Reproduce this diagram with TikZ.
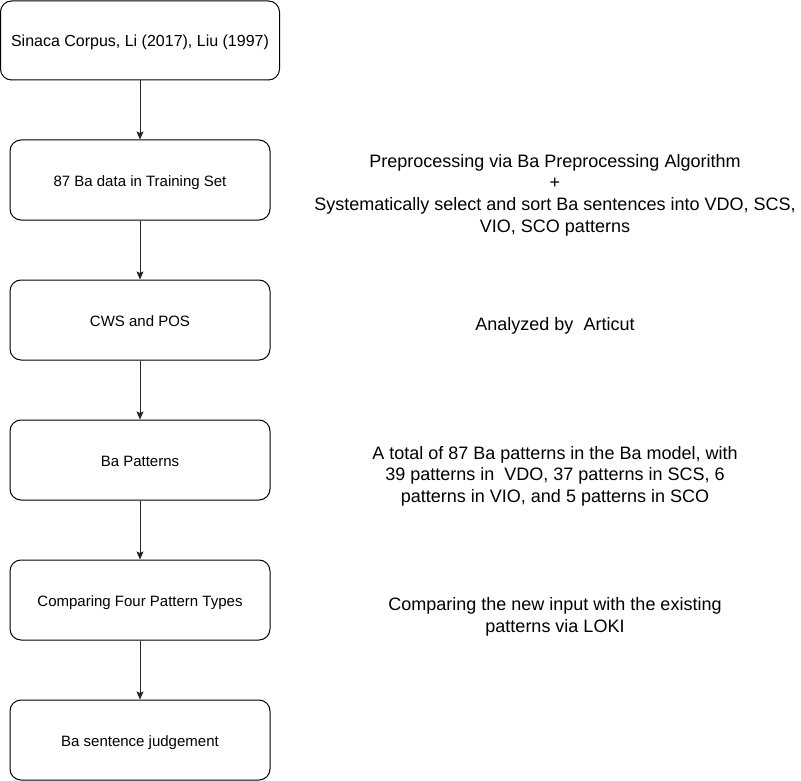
\documentclass[tikz,border=0pt]{standalone}
\usepackage{fontspec}
\setmainfont{Liberation Sans}
\usepackage{tikz}
\usetikzlibrary{shapes.geometric, arrows, arrows.meta}
\tikzstyle{stepbox} = [rectangle, rounded corners=11pt, minimum width=260pt, minimum height=80pt, text centered, draw=black, line width=1pt, fill=white, text height=14.5pt, text depth=2pt, font=\fontsize{15}{18}\selectfont]
\tikzstyle{bigstep} = [stepbox, minimum width=279pt, minimum height=79pt, font=\fontsize{16}{19}\selectfont]
\tikzstyle{note} = [text centered, align=center, font=\fontsize{18}{21.6}\selectfont]
\tikzstyle{arrow} = [line width=1pt, ->, >={Stealth[length=8pt, width=7pt, inset=1.5pt]}, black!85]

\begin{document}
\begin{tikzpicture}[x=1pt, y=-1pt, node distance=140pt]
		\useasboundingbox (0,0) rectangle (801,781);
		% Nodes
		\node (Corpus) [bigstep] at (140,40.5) {Sinaca Corpus, Li (2017), Liu (1997)};
		\node (Train) [stepbox, below of = Corpus, yshift = 0.5pt] {87 Ba data in Training Set};
		\node (CWS) [stepbox, below of = Train] {CWS and POS};
		\node (Patterns) [stepbox, below of = CWS] {Ba Patterns};
		\node (Compare) [stepbox, below of = Patterns] {Comparing Four Pattern Types};
		\node (Judge) [stepbox, below of = Compare] {Ba sentence judgement};
		\node (PrepNote) [note] at (555,195) {Preprocessing via Ba Preprocessing Algorithm\\+\\Systematically select and sort Ba sentences into VDO, SCS,\\VIO, SCO patterns};
		\node (ArticNote) [note] at (555,326) {Analyzed by\ \ Articut};
		\node (TotalNote) [note] at (555,476) {A total of 87 Ba patterns in the Ba model, with\\39 patterns in\ \ VDO, 37 patterns in SCS, 6\\patterns in VIO, and 5 patterns in SCO};
		\node (LokiNote) [note] at (555,617) {Comparing the new input with the existing\\patterns via LOKI};
		% Arrows
		\draw [arrow] (Corpus) -- (Train);
		\draw [arrow] (Train) -- (CWS);
		\draw [arrow] (CWS) -- (Patterns);
		\draw [arrow] (Patterns) -- (Compare);
		\draw [arrow] (Compare) -- (Judge);
	\end{tikzpicture}
\end{document}
